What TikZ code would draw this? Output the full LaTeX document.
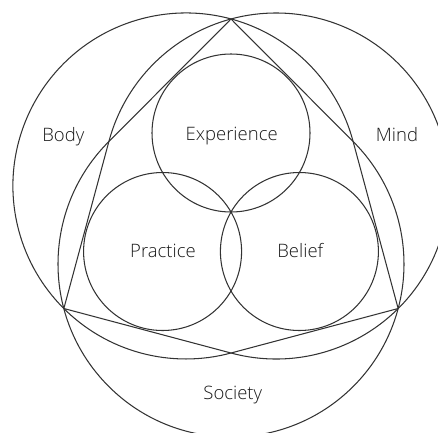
\documentclass[tikz,border=0pt]{standalone}
\usepackage{fontspec}
\setmainfont{Open Sans Light}
\begin{document}
\begin{tikzpicture}[x=1pt,y=1pt,
  outline/.style={draw=black!80, line width=1.05pt},
  ring/.style={circle, outline, minimum size=158pt, inner sep=0pt},
  tag/.style={text=black!90, font=\fontsize{18.5}{22}\selectfont, anchor=base, inner sep=0pt}]
\useasboundingbox (-231,-220) rectangle (207,212);
\clip (-231,-220) rectangle (207,212);
% outer vertices and inner crossing points of the three large arcs
\coordinate (T) at (90:193);
\coordinate (L) at (210:193);
\coordinate (R) at (330:193);
\coordinate (PB) at (270:141);
\coordinate (PR) at (30:141);
\coordinate (PL) at (150:141);
% large arcs: body, mind, society
\draw[outline] (PR) arc[start angle=14.9, end angle=285.1, radius=173];
\draw[outline] (PB) arc[start angle=-105.1, end angle=165.1, radius=173];
\draw[outline] (PL) arc[start angle=134.9, end angle=405.1, radius=173];
% hexagon through the vertices
\draw[outline, line join=miter] (T) -- (PL) -- (L) -- (PB) -- (R) -- (PR) -- cycle;
% inner circles
\node[ring] (exp) at (90:79) {};
\node[ring] (pra) at (210:79) {};
\node[ring] (bel) at (330:79) {};
% labels
\node[tag] (body) at (-167.7,70.3) {Body};
\node[tag] (mind) at (166,70.3) {Mind};
\node[tag] (experience) at (0.7,72) {Experience};
\node[tag] (practice) at (-68,-45) {Practice};
\node[tag] (belief) at (69.3,-45) {Belief};
\node[tag] (society) at (1.8,-187) {Society};
\end{tikzpicture}
\end{document}
